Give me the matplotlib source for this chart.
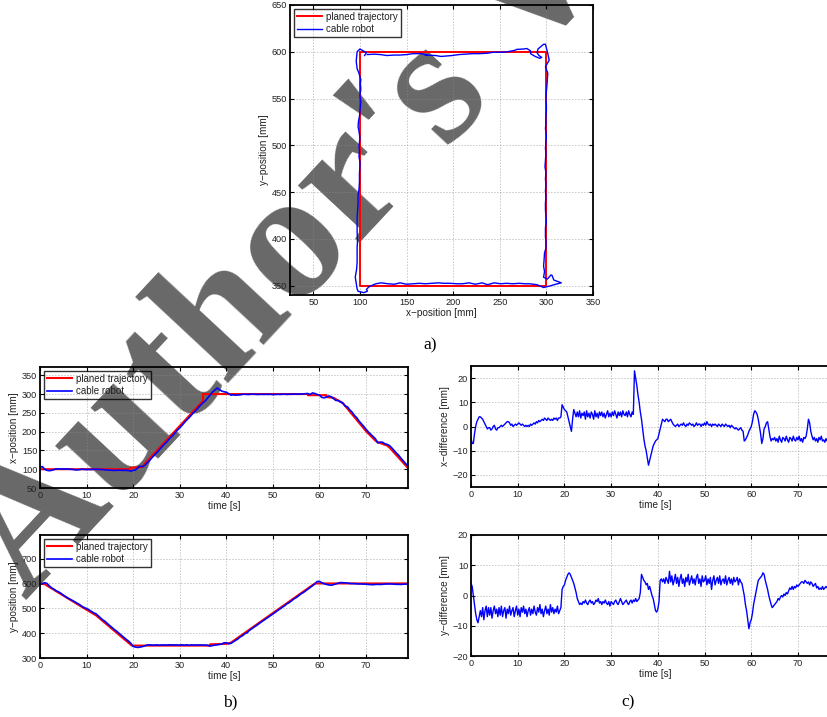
import numpy as np
import matplotlib
matplotlib.use("Agg")
import matplotlib.pyplot as plt
from matplotlib.ticker import MultipleLocator

# ---------------- data ----------------
# planned path (panel a)
plan_path_x = [100, 100, 300, 300, 100]
plan_path_y = [600, 350, 350, 600, 600]

# planned trajectory breakpoints (panel b)
red_x_t = [0, 19.3, 19.5, 22, 22.5, 35, 35, 57.5, 57.5, 61.5, 61.5, 63, 65, 70, 72, 72.5, 74.5, 75, 79]
red_x = [100, 100, 104, 106, 115, 282, 300, 300, 297, 297, 292, 290, 276, 201, 176, 172, 163, 158, 103]
red_y_t = [0, 1, 10, 12, 19.7, 36.5, 36.5, 40, 41, 59, 79]
red_y = [600, 597, 494, 472, 350, 350, 355, 357, 362, 600, 600]

# cable robot measured position, sampled every 0.5 s (panels a, b)
robot_x = [105, 107, 100, 97, 96, 97, 99, 101, 100.5, 101, 100, 101, 100.5, 100, 99.5, 98.5, 98, 99, 100, 99.5,
           99, 99.5, 99, 100, 100, 99.5, 99.5, 99, 98, 98, 97.5, 97, 97, 97, 97.5, 97, 97, 97, 96.5, 95,
           97, 98, 104, 108, 107, 110, 117, 123, 130, 137, 143, 150, 157, 164, 170, 177, 184, 190, 197, 204,
           210, 217, 224, 231, 237, 244, 251, 257, 264, 271, 277, 282, 290, 297, 305, 310, 316, 312, 308, 306,
           305, 301, 297, 298, 297, 297.5, 298, 299.5, 299.5, 299, 299, 300, 299.5, 299, 299, 299.5, 299, 299.5, 299, 299.5,
           298.5, 299, 299.5, 299, 299.5, 300, 299, 299.5, 299.5, 300, 300, 299.5, 300, 300.5, 301, 301.5, 299, 303, 301.5, 299,
           297, 291, 290, 292, 295, 293, 288, 283, 283, 279, 276, 268, 266, 258, 252, 243, 237, 228, 221, 214,
           206, 199, 193, 187, 181, 170, 172, 172, 168, 166, 163, 157, 150, 143, 137, 129, 122, 115, 108]
robot_y = [596, 599, 603, 600, 590, 582, 577, 570, 566, 560, 553, 547, 541, 536, 531, 526, 520, 515, 508, 503,
           499, 494, 488, 482, 478, 470, 461, 453, 447, 438, 430, 422, 414, 407, 399, 391, 383, 375, 368, 359,
           346.5, 344, 342.5, 344, 346, 349, 352, 353, 352, 351.5, 353, 351.5, 352, 352.5, 352, 352.5, 353, 352.5, 352.5, 352,
           352, 353, 351.5, 353, 351, 353, 352, 352.5, 352, 352.5, 352, 352, 351, 348, 350, 351.5, 353, 354.5, 356, 361,
           361.5, 357, 359, 365, 371, 377, 385, 390, 398, 402, 412, 418, 425, 431, 438, 445, 451, 458, 464, 471,
           477, 484, 491, 497, 504, 510, 518, 523, 530, 538, 543, 550, 558, 563, 570, 577, 584, 591, 598, 608,
           608, 603, 599, 596, 594, 593, 595, 598, 601, 603.5, 603, 602.5, 601.5, 600, 599.5, 599.5, 598.5, 598, 598, 597.5,
           597, 596, 595.5, 595, 596, 596.5, 596, 596.5, 597.5, 598, 598, 598, 597, 596.5, 596.5, 596, 597, 597.5, 597]

# differences planned - measured, sampled every 0.25 s (panel c)
x_diff = [-5, -7, -7, -3, 0, 2, 3, 4, 4, 3.5, 3, 2, 1, 0, -1, -0.5, -0.5, -1.5, -1, 0,
          0.5, -1, -1.5, -0.5, -0.5, 0, 0.5, 0, 0.5, 1, 1.5, 2, 2, 1.5, 0.5, 1, 0, 0.5, 1, 0.5,
          1, 1.5, 1, 0.5, 1, 0.5, 0, 0.5, 0, 0.5, 0, 1, 0.5, 1, 1.5, 1, 2, 1.5, 2.5, 2,
          2.5, 3, 2.5, 3.5, 3, 2.5, 3.5, 3, 2.5, 3, 2.5, 3.5, 3, 3.5, 2.5, 3.5, 3.5, 4, 9, 8,
          7, 6.5, 6, 4, 2, 0, -2, 3, 7, 5.5, 4, 6, 4, 6.5, 3.5, 5.5, 4.5, 6, 3, 6.5,
          4, 5.5, 3.5, 6, 5, 3, 6.5, 4, 5.5, 3.5, 6, 4.5, 6, 4, 5.5, 3.5, 5, 6.5, 4, 5.5,
          4, 6, 4.5, 6.5, 5, 3.5, 6, 4.5, 6, 4, 6.5, 5, 4.5, 6, 4, 6.5, 5, 4, 6, 5,
          23, 20, 17, 13, 10, 6, 3, -1, -5, -8, -10, -13, -16, -14, -12, -10, -8, -7, -6, -5.5,
          -5, -3, -1, 1, 3, 2.5, 2, 3, 3, 2, 2.5, 3, 2, 1, 0.5, 0, 0.5, 1, 0, 0.5,
          1, 0.5, 1.5, 0.5, 0, 1, 0.5, 1.5, 1, 0.5, 1, 0, 0.5, 1.5, 0.5, 1, 1, 0, 1, 0.5,
          1.5, 0.5, 2, 1, 0.5, 1, 0, 1, 0.5, 1, 0.5, 0, 1, 0.5, 0, 1, 0.5, 0, 1, 0.5,
          0, 0.5, -0.5, 0.5, 0, -0.5, -1, -0.5, -1, -1.5, -1, -0.5, -1.5, -2, -6, -5.5, -4.5, -3.5, -2, -1,
          0, 2, 5, 6.5, 6, 5, 3, 0, -3, -7, -5, -1, 0, 1.5, 2, -1, -4, -6, -5, -5.5,
          -4.5, -6, -5, -6.5, -4, -5.5, -6.5, -4.5, -5, -6, -4, -5.5, -6.5, -4.5, -5, -6, -4, -5.5, -6, -4.5,
          -5.5, -4, -6, -5, -6.5, -4.5, -5, -4, -1, 3, 1.5, -2, -4, -5.5, -4.5, -6, -5, -6.5, -4.5, -5.5,
          -4, -6, -5.5, -6.5, -5, -6, -4.5, -6, -5.5, -7, -5, -6, -6, -5, -6.5, -5.5, -6]
y_diff = [4, 3, 0, -3, -6, -8, -9, -7, -5, -7, -4, -8, -5, -3.5, -7, -4, -6.5, -4, -7.5, -5,
          -3.5, -6, -4.5, -7, -4, -6.5, -3.5, -7, -5, -4, -7.5, -4.5, -6, -3.5, -6.5, -5, -4, -7, -5, -3.5,
          -6.5, -4.5, -7, -4, -5.5, -3.5, -6, -4.5, -7, -5, -4, -6.5, -4.5, -6, -3.5, -5.5, -6.5, -4, -5.5, -3,
          -6, -4.5, -7, -5, -3.5, -6, -4.5, -6.5, -3, -5.5, -4, -6, -4.5, -5.5, -3.5, -6, -5, -4, 2, 3,
          3.5, 5, 6, 7, 7.5, 7, 6, 5, 4, 2.5, 1, -1, -2, -3, -2.5, -3, -2, -2.5, -1.5, -2.5,
          -3, -2, -1.5, -2.5, -2, -3, -2.5, -1.5, -2, -1, -2.5, -2, -3, -2, -2.5, -1.5, -2.5, -3, -2, -3.5,
          -2, -2.5, -3, -2, -1.5, -2.5, -3, -2, -1, -2, -3, -2.5, -2, -1.5, -2.5, -3, -2, -1.5, -2.5, -1.5,
          -2, -1, -2, -1.5, -1, 1, 7, 6, 5, 4.5, 3.5, 4, 2, 3, 1.5, 0, -1, -3, -5, -5.5,
          -4.5, -2, 5, 5.5, 4.5, 5.5, 4, 6, 5, 4, 8, 4.5, 6.5, 3.5, 5, 7, 4, 6, 3, 5.5,
          7, 4, 5.5, 3, 6, 4.5, 7, 3.5, 5, 6.5, 4, 5.5, 3.5, 6, 7, 4, 5.5, 3, 6.5, 4.5,
          5, 6.5, 3.5, 5.5, 4, 6, 2, 5, 6.5, 3.5, 5, 6, 4, 6.5, 3.5, 5, 5.5, 4, 6.5, 3.5,
          5, 6, 4, 5.5, 3.5, 6, 4.5, 5, 6, 3.5, 5.5, 4.5, 4, 2, 0, -3, -5, -8, -11, -9,
          -8, -6, -3, -1, 1, 3, 5, 5.5, 6, 6.5, 7.5, 7, 5, 3.5, 2, 0, -1.5, -3, -4, -3.5,
          -3, -2.5, -2, -1, -1.5, -0.5, 0, -0.5, 0.5, 0, 1, 0.5, 1.5, 2.5, 2, 3, 2, 3, 2.5, 3.5,
          3, 3.5, 4, 4.5, 4.5, 4, 5, 4.5, 4, 4.5, 3.5, 4.5, 4, 3, 3.5, 4, 2.5, 3, 2, 2.5,
          2, 3, 2, 2.5, 3, 2.5, 3.5, 3, 3.5, 3, 4, 3, 3, 3.5, 2.5, 3.5, 3]

t_robot = np.arange(len(robot_x)) * 0.5
t_diff = np.arange(len(x_diff)) * 0.25

# ---------------- style ----------------
plt.rcParams['font.family'] = ['Liberation Sans', 'DejaVu Sans']
RED = '#ff0000'
BLUE = '#0000ff'
TXT = '#222222'
W, H = 828, 717
fig = plt.figure(figsize=(W / 100, H / 100), dpi=100)
fig.patch.set_facecolor('white')


def px_axes(left, top, right, bottom):
    ax = fig.add_axes([left / W, 1 - bottom / H, (right - left) / W, (bottom - top) / H])
    ax.set_facecolor('none')
    for s in ax.spines.values():
        s.set_linewidth(1.3)
        s.set_color('black')
    ax.tick_params(direction='in', length=3, width=0.8, top=True, right=True,
                   labelsize=6.6, colors='black', labelcolor=TXT, pad=2)
    ax.grid(True, linestyle=(0, (1, 2.6)), color='#8c8c8c', linewidth=0.6)
    return ax


def legend(ax, fs):
    lg = ax.legend(loc='upper left', fontsize=fs, frameon=True, fancybox=False,
                   handlelength=2.6, borderpad=0.3, labelspacing=0.25, handletextpad=0.45,
                   borderaxespad=0.4)
    lg.get_frame().set_edgecolor('black')
    lg.get_frame().set_linewidth(1.0)
    lg.get_frame().set_facecolor('none')
    for txt in lg.get_texts():
        txt.set_color(TXT)


# watermark (drawn beneath everything else)
fig.text(26 / W, 1 - 601 / H, "Author's Version", rotation=47, rotation_mode='anchor',
         ha='left', va='baseline', fontsize=131, fontweight='bold', family='Liberation Serif',
         color='#686868', zorder=-5)

# ---- panel a ----
axa = px_axes(290, 5, 593, 295)
axa.plot(plan_path_x, plan_path_y, color=RED, lw=1.4, label='planed trajectory')
axa.plot(robot_x, robot_y, color=BLUE, lw=1.0, label='cable robot')
axa.set_xlim(25, 350)
axa.set_ylim(340, 650)
axa.xaxis.set_major_locator(MultipleLocator(50))
axa.yaxis.set_major_locator(MultipleLocator(50))
axa.set_xlabel('x\u2212position [mm]', fontsize=7.2, color=TXT, labelpad=1)
axa.set_ylabel('y\u2212position [mm]', fontsize=7.2, color=TXT, labelpad=2)
legend(axa, 7.0)

# ---- panel b top ----
axb1 = px_axes(40, 367, 408, 488)
axb1.plot(red_x_t, red_x, color=RED, lw=1.5, label='planed trajectory')
axb1.plot(t_robot, robot_x, color=BLUE, lw=1.2, label='cable robot')
axb1.set_xlim(0, 79)
axb1.set_ylim(50, 372)
axb1.xaxis.set_major_locator(MultipleLocator(10))
axb1.yaxis.set_major_locator(MultipleLocator(50))
axb1.set_xlabel('time [s]', fontsize=7.2, color=TXT, labelpad=1)
axb1.set_ylabel('x\u2212position [mm]', fontsize=7.2, color=TXT, labelpad=2)
legend(axb1, 7.0)

# ---- panel b bottom ----
axb2 = px_axes(40, 535, 408, 658)
axb2.plot(red_y_t, red_y, color=RED, lw=1.5, label='planed trajectory')
axb2.plot(t_robot, robot_y, color=BLUE, lw=1.2, label='cable robot')
axb2.set_xlim(0, 79)
axb2.set_ylim(300, 795)
axb2.xaxis.set_major_locator(MultipleLocator(10))
axb2.yaxis.set_major_locator(MultipleLocator(100))
axb2.set_xlabel('time [s]', fontsize=7.2, color=TXT, labelpad=1)
axb2.set_ylabel('y\u2212position [mm]', fontsize=7.2, color=TXT, labelpad=2)
legend(axb2, 7.0)

# ---- panel c top ----
axc1 = px_axes(471, 366, 840, 487)
axc1.plot(t_diff, x_diff, color=BLUE, lw=1.0)
axc1.set_xlim(0, 79)
axc1.set_ylim(-25, 25)
axc1.xaxis.set_major_locator(MultipleLocator(10))
axc1.yaxis.set_major_locator(MultipleLocator(10))
axc1.set_xlabel('time [s]', fontsize=7.2, color=TXT, labelpad=1)
axc1.set_ylabel('x\u2212difference [mm]', fontsize=7.2, color=TXT, labelpad=2)

# ---- panel c bottom ----
axc2 = px_axes(471, 535, 840, 656)
axc2.plot(t_diff, y_diff, color=BLUE, lw=1.0)
axc2.set_xlim(0, 79)
axc2.set_ylim(-20, 20)
axc2.xaxis.set_major_locator(MultipleLocator(10))
axc2.yaxis.set_major_locator(MultipleLocator(10))
axc2.set_xlabel('time [s]', fontsize=7.2, color=TXT, labelpad=1)
axc2.set_ylabel('y\u2212difference [mm]', fontsize=7.2, color=TXT, labelpad=2)

# sub-figure labels
for (x, y, s) in [(430, 345, 'a)'), (230, 702, 'b)'), (628, 702, 'c)')]:
    fig.text(x / W, 1 - y / H, s, ha='center', va='center', fontsize=12.5,
             family='Liberation Serif', color='black')

fig.savefig('out.png', dpi=100, facecolor='white')
